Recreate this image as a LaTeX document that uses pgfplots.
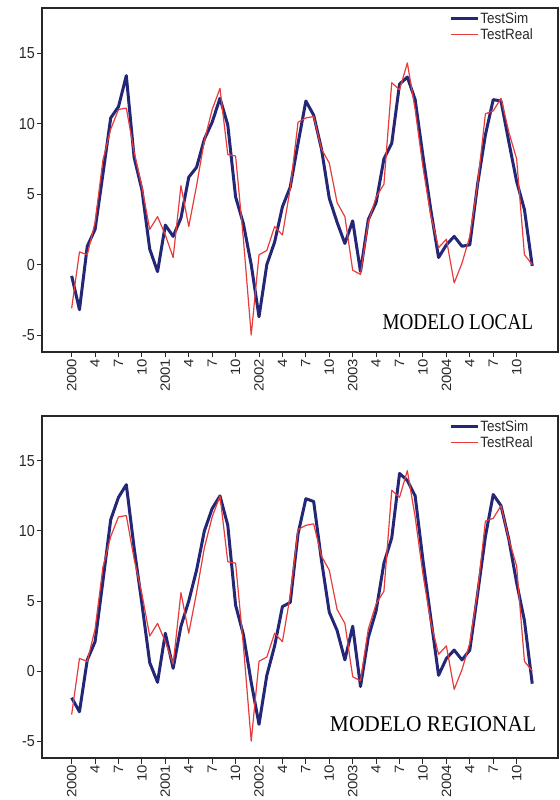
\documentclass[border=0pt]{standalone}
\usepackage{pgfplots}
\pgfplotsset{compat=1.18}
\usepackage{pgfplotstable}
\usepackage{fontspec}
\setmainfont{Liberation Sans}
\newfontfamily\modelfont{Liberation Serif}
\definecolor{simblue}{RGB}{36,38,118}
\definecolor{realred}{RGB}{232,60,60}
\definecolor{axgray}{RGB}{40,40,40}
\newcommand\sx[1]{\scalebox{0.9}[1]{#1}}
\newcommand\sy[1]{\scalebox{1}[0.9]{#1}}

\pgfplotstableread{
i real loc reg
0 -3.1 -0.8 -1.9
1 0.9 -3.2 -2.9
2 0.7 1.3 0.8
3 3.0 2.5 2.1
4 7.4 6.4 6.4
5 9.6 10.4 10.8
6 11.0 11.2 12.4
7 11.1 13.4 13.3
8 8.0 7.6 8.8
9 5.5 5.3 4.8
10 2.5 1.1 0.6
11 3.4 -0.5 -0.8
12 2.1 2.8 2.7
13 0.5 2.0 0.2
14 5.6 3.3 3.2
15 2.7 6.2 5.0
16 5.6 6.9 7.2
17 8.8 8.9 10.0
18 11.0 10.1 11.6
19 12.5 11.8 12.5
20 7.8 9.9 10.4
21 7.7 4.8 4.7
22 1.8 2.9 2.6
23 -5.0 0.0 -0.8
24 0.7 -3.7 -3.8
25 1.0 0.0 -0.3
26 2.7 1.6 1.8
27 2.1 4.1 4.6
28 5.4 5.5 4.9
29 10.1 8.6 9.8
30 10.4 11.6 12.3
31 10.5 10.6 12.1
32 8.2 8.2 7.9
33 7.2 4.7 4.2
34 4.4 3.0 2.9
35 3.4 1.5 0.8
36 -0.4 3.1 3.2
37 -0.7 -0.5 -1.1
38 3.0 3.2 2.4
39 4.8 4.4 4.3
40 5.7 7.5 7.7
41 12.9 8.6 9.5
42 12.4 12.8 14.1
43 14.3 13.3 13.6
44 11.0 11.7 12.5
45 6.9 7.7 7.9
46 3.5 3.9 3.8
47 1.2 0.5 -0.3
48 1.8 1.4 0.9
49 -1.3 2.0 1.5
50 0.1 1.3 0.8
51 2.0 1.4 1.5
52 5.7 5.7 5.5
53 10.7 9.2 9.6
54 10.9 11.7 12.6
55 11.8 11.6 11.8
56 9.4 8.7 9.4
57 7.5 5.9 6.3
58 0.7 3.9 3.6
59 0.0 -0.1 -0.9
}\data

\pgfplotsset{
  panel/.style={
    scale only axis, width=516bp, height=344bp,
    xmin=-3.8, xmax=62.3, ymin=-6.2, ymax=18.2,
    axis line style={axgray, line width=1.3bp},
    tick style={axgray, line width=1bp},
    tick align=outside, major tick length=5.5bp,
    xtick pos=bottom, ytick pos=left,
    xtick={0,3,...,57},
    xticklabels={\sy{2000},\sy{4},\sy{7},\sy{10},\sy{2001},\sy{4},\sy{7},\sy{10},\sy{2002},\sy{4},\sy{7},\sy{10},\sy{2003},\sy{4},\sy{7},\sy{10},\sy{2004},\sy{4},\sy{7},\sy{10}},
    ytick={-5,0,5,10,15},
    yticklabels={\sx{-5},\sx{0},\sx{5},\sx{10},\sx{15}},
    xticklabel style={rotate=90, anchor=east, font=\fontsize{15}{15}\selectfont, text=axgray, inner sep=1bp},
    yticklabel style={font=\fontsize{16}{16}\selectfont, text=axgray, inner sep=1.5bp},
    legend cell align=left,
    legend image code/.code={\draw[##1] (0bp,0bp) -- (27bp,0bp);},
    legend style={at={(1,1)}, anchor=north east, xshift=-24bp, yshift=-3.5bp,
      draw=none, fill=none, font=\fontsize{15}{15}\selectfont, text=axgray,
      inner sep=0pt, row sep=1.5bp, nodes={inner sep=1bp}},
    clip=false,
  },
  simline/.style={simblue, line width=3bp, line join=round},
  realline/.style={realred, line width=1.2bp, line join=round},
}

\begin{document}
\begin{tikzpicture}
\useasboundingbox (0,0) rectangle (560bp,800bp);
\begin{axis}[panel, at={(42bp,448bp)}, anchor=south west]
  \addplot[simline] table[x=i, y=loc] {\data};
  \addlegendentry{\sx{TestSim}}
  \addplot[realline] table[x=i, y=real] {\data};
  \addlegendentry{\sx{TestReal}}
  \node[anchor=base east, inner sep=0pt] at (rel axis cs:0.952,0.064)
    {\scalebox{0.85}[1]{\modelfont\fontsize{22.6}{22.6}\selectfont MODELO LOCAL}};
\end{axis}
\begin{axis}[panel, at={(42bp,42bp)}, anchor=south west, height=342bp]
  \addplot[simline] table[x=i, y=reg] {\data};
  \addlegendentry{\sx{TestSim}}
  \addplot[realline] table[x=i, y=real] {\data};
  \addlegendentry{\sx{TestReal}}
  \node[anchor=base east, inner sep=0pt] at (rel axis cs:0.958,0.078)
    {\scalebox{0.95}[1]{\modelfont\fontsize{22.6}{22.6}\selectfont MODELO REGIONAL}};
\end{axis}
\end{tikzpicture}
\end{document}
